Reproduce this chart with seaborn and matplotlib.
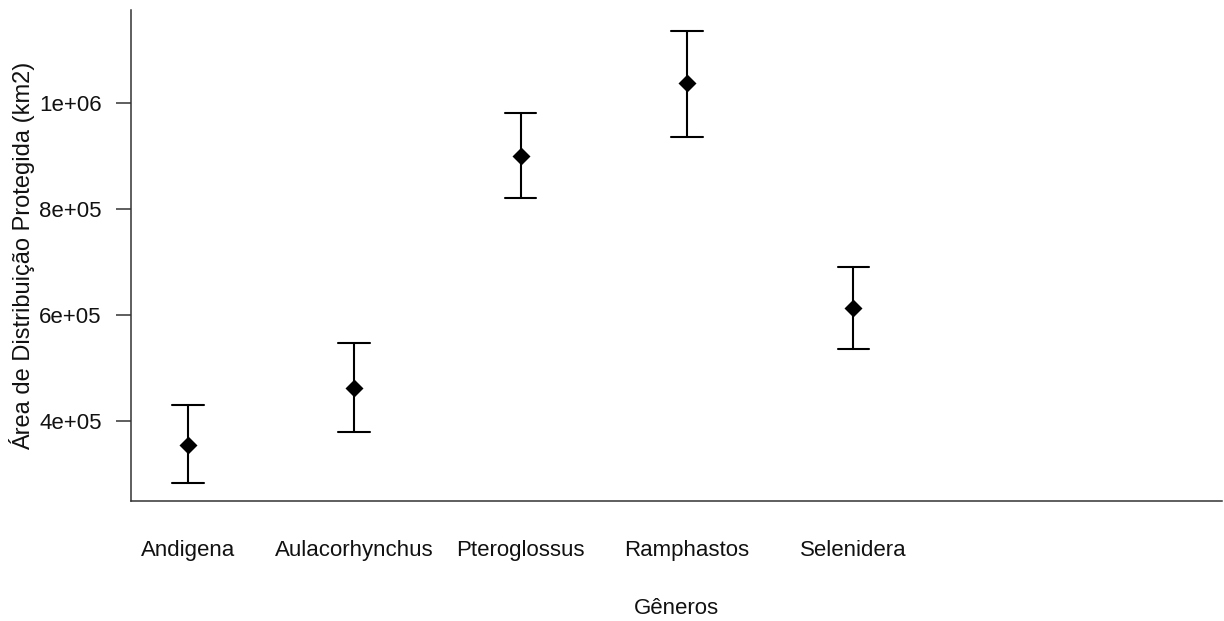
import matplotlib
matplotlib.use("Agg")
import matplotlib.pyplot as plt
import seaborn as sns
import pandas as pd

generos = ["Andigena", "Aulacorhynchus", "Pteroglossus", "Ramphastos", "Selenidera"]
media = [354700, 462300, 900000, 1037700, 613200]
limite_inf = [283000, 379200, 820800, 935800, 535800]
limite_sup = [430200, 547200, 981100, 1135800, 690600]
yticks = [400000, 600000, 800000, 1000000]
ytick_labels = ["4e+05", "6e+05", "8e+05", "1e+06"]

rows = []
for g, lo, m, hi in zip(generos, limite_inf, media, limite_sup):
    for v in (lo, m, hi):
        rows.append({"Gêneros": g, "Área": v})
df = pd.DataFrame(rows)

sns.set_style("ticks")
plt.rcParams["font.family"] = ["Liberation Sans", "DejaVu Sans"]
plt.rcParams["text.color"] = "#111111"
plt.rcParams["axes.labelcolor"] = "#111111"
plt.rcParams["xtick.color"] = "#111111"
plt.rcParams["ytick.color"] = "#111111"

fig = plt.figure(figsize=(12.24, 6.21), dpi=100)
ax = fig.add_axes([131 / 1224, 1 - 501 / 621, (1222 - 131) / 1224, (501 - 10) / 621])

sns.pointplot(
    data=df, x="Gêneros", y="Área", order=generos,
    estimator="median", errorbar=("pi", 100),
    color="black", markers="D", linestyles="none",
    capsize=0.19, err_kws={"linewidth": 1.5}, markersize=7.5, ax=ax,
)

ax.set_xlim(-0.342, 6.216)
ax.set_ylim(249000, 1175500)
ax.set_yticks(yticks)
ax.set_yticklabels(ytick_labels, fontsize=16)
ax.tick_params(axis="y", length=11, width=1.1, color="#333333", pad=10)
ax.tick_params(axis="x", length=0, pad=28, labelsize=16)
ax.set_xlabel("Gêneros", fontsize=16, labelpad=27)
ax.set_ylabel("Área de Distribuição Protegida (km2)", fontsize=17, labelpad=3)
for s in ("top", "right"):
    ax.spines[s].set_visible(False)
for s in ("left", "bottom"):
    ax.spines[s].set_color("#333333")
    ax.spines[s].set_linewidth(1.1)
ax.grid(False)

fig.savefig("out.png", dpi=100)
